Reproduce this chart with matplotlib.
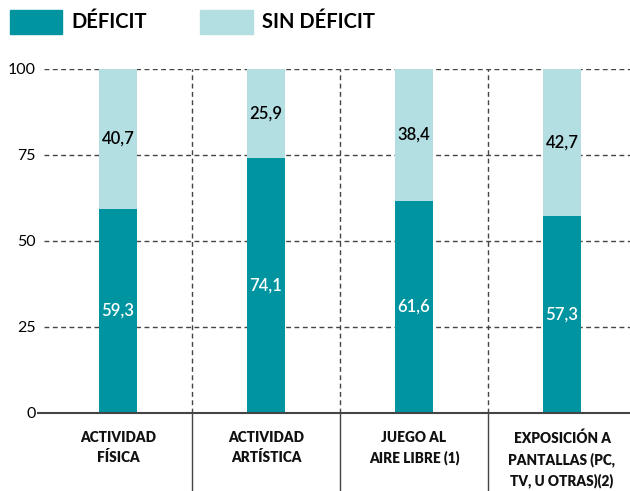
import matplotlib.pyplot as plt
from matplotlib.patches import Rectangle

plt.rcParams["font.family"] = ["Lato", "DejaVu Sans"]

# data
categories = [
    "ACTIVIDAD\nFÍSICA",
    "ACTIVIDAD\nARTÍSTICA",
    "JUEGO AL\nAIRE LIBRE (1)",
    "EXPOSICIÓN A\nPANTALLAS (PC,\nTV, U OTRAS)(2)",
]
deficit = [59.3, 74.1, 61.6, 57.3]
sin_deficit = [40.7, 25.9, 38.4, 42.7]
yticks = [0, 25, 50, 75, 100]

DARK = "#0094a0"
LIGHT = "#b3dfe3"
GRID = "#444444"

fig = plt.figure(figsize=(6.30, 4.91), dpi=100)
W, H = 630, 491
# axes: x from 44px to 636px, y from 413px (0) to 69px (100)
ax = fig.add_axes([44 / W, 78 / H, 592 / W, 344 / H])

x = list(range(len(categories)))
bw = 0.257
ax.bar(x, deficit, width=bw, color=DARK, zorder=3)
ax.bar(x, sin_deficit, width=bw, bottom=deficit, color=LIGHT, zorder=3)

for i in x:
    ax.text(i, deficit[i] / 2, f"{deficit[i]:.1f}".replace(".", ","),
            ha="center", va="center", color="white", fontsize=12,
            fontweight="semibold", zorder=4)
    ax.text(i, deficit[i] + sin_deficit[i] / 2, f"{sin_deficit[i]:.1f}".replace(".", ","),
            ha="center", va="center", color="black", fontsize=12,
            fontweight="semibold", zorder=4)

ax.set_xlim(-0.5, len(categories) - 0.5)
ax.set_ylim(0, 100)

# horizontal dashed grid
for v in yticks[1:]:
    ax.axhline(v, color=GRID, lw=1, ls=(0, (3.5, 2.5)), zorder=1)
ax.plot([-0.55, len(categories) - 0.5], [0, 0], color=GRID, lw=1.5,
        clip_on=False, zorder=5, solid_capstyle="butt")

# category separators: dashed above zero, solid below
for b in range(1, len(categories)):
    ax.plot([b - 0.5, b - 0.5], [0, 100], color=GRID, lw=1,
            ls=(0, (3.5, 2.5)), zorder=1)
    ax.plot([b - 0.5, b - 0.5], [0, -78 / 3.44], color=GRID, lw=1,
            clip_on=False, zorder=1)

for s in ax.spines.values():
    s.set_visible(False)
ax.set_xticks([])
ax.set_yticks(yticks)
ax.set_yticklabels([str(v) for v in yticks], fontsize=11.5)
ax.tick_params(axis="y", length=0, pad=6)

for i, lab in enumerate(categories):
    ax.text(i, -5.2, lab, ha="center", va="top", fontsize=9.8,
            fontweight="heavy", linespacing=1.55, color="#111111")

# legend
fig.patches.append(Rectangle((10 / W, 1 - 34 / H), 52 / W, 24 / H,
                             transform=fig.transFigure, color=DARK))
fig.text(71 / W, 1 - 22 / H, "DÉFICIT", fontsize=14.5, fontweight="bold",
         va="center", ha="left")
fig.patches.append(Rectangle((200 / W, 1 - 34 / H), 53 / W, 24 / H,
                             transform=fig.transFigure, color=LIGHT))
fig.text(262 / W, 1 - 22 / H, "SIN DÉFICIT", fontsize=14.5, fontweight="bold",
         va="center", ha="left")

fig.savefig("out.png", dpi=100)
